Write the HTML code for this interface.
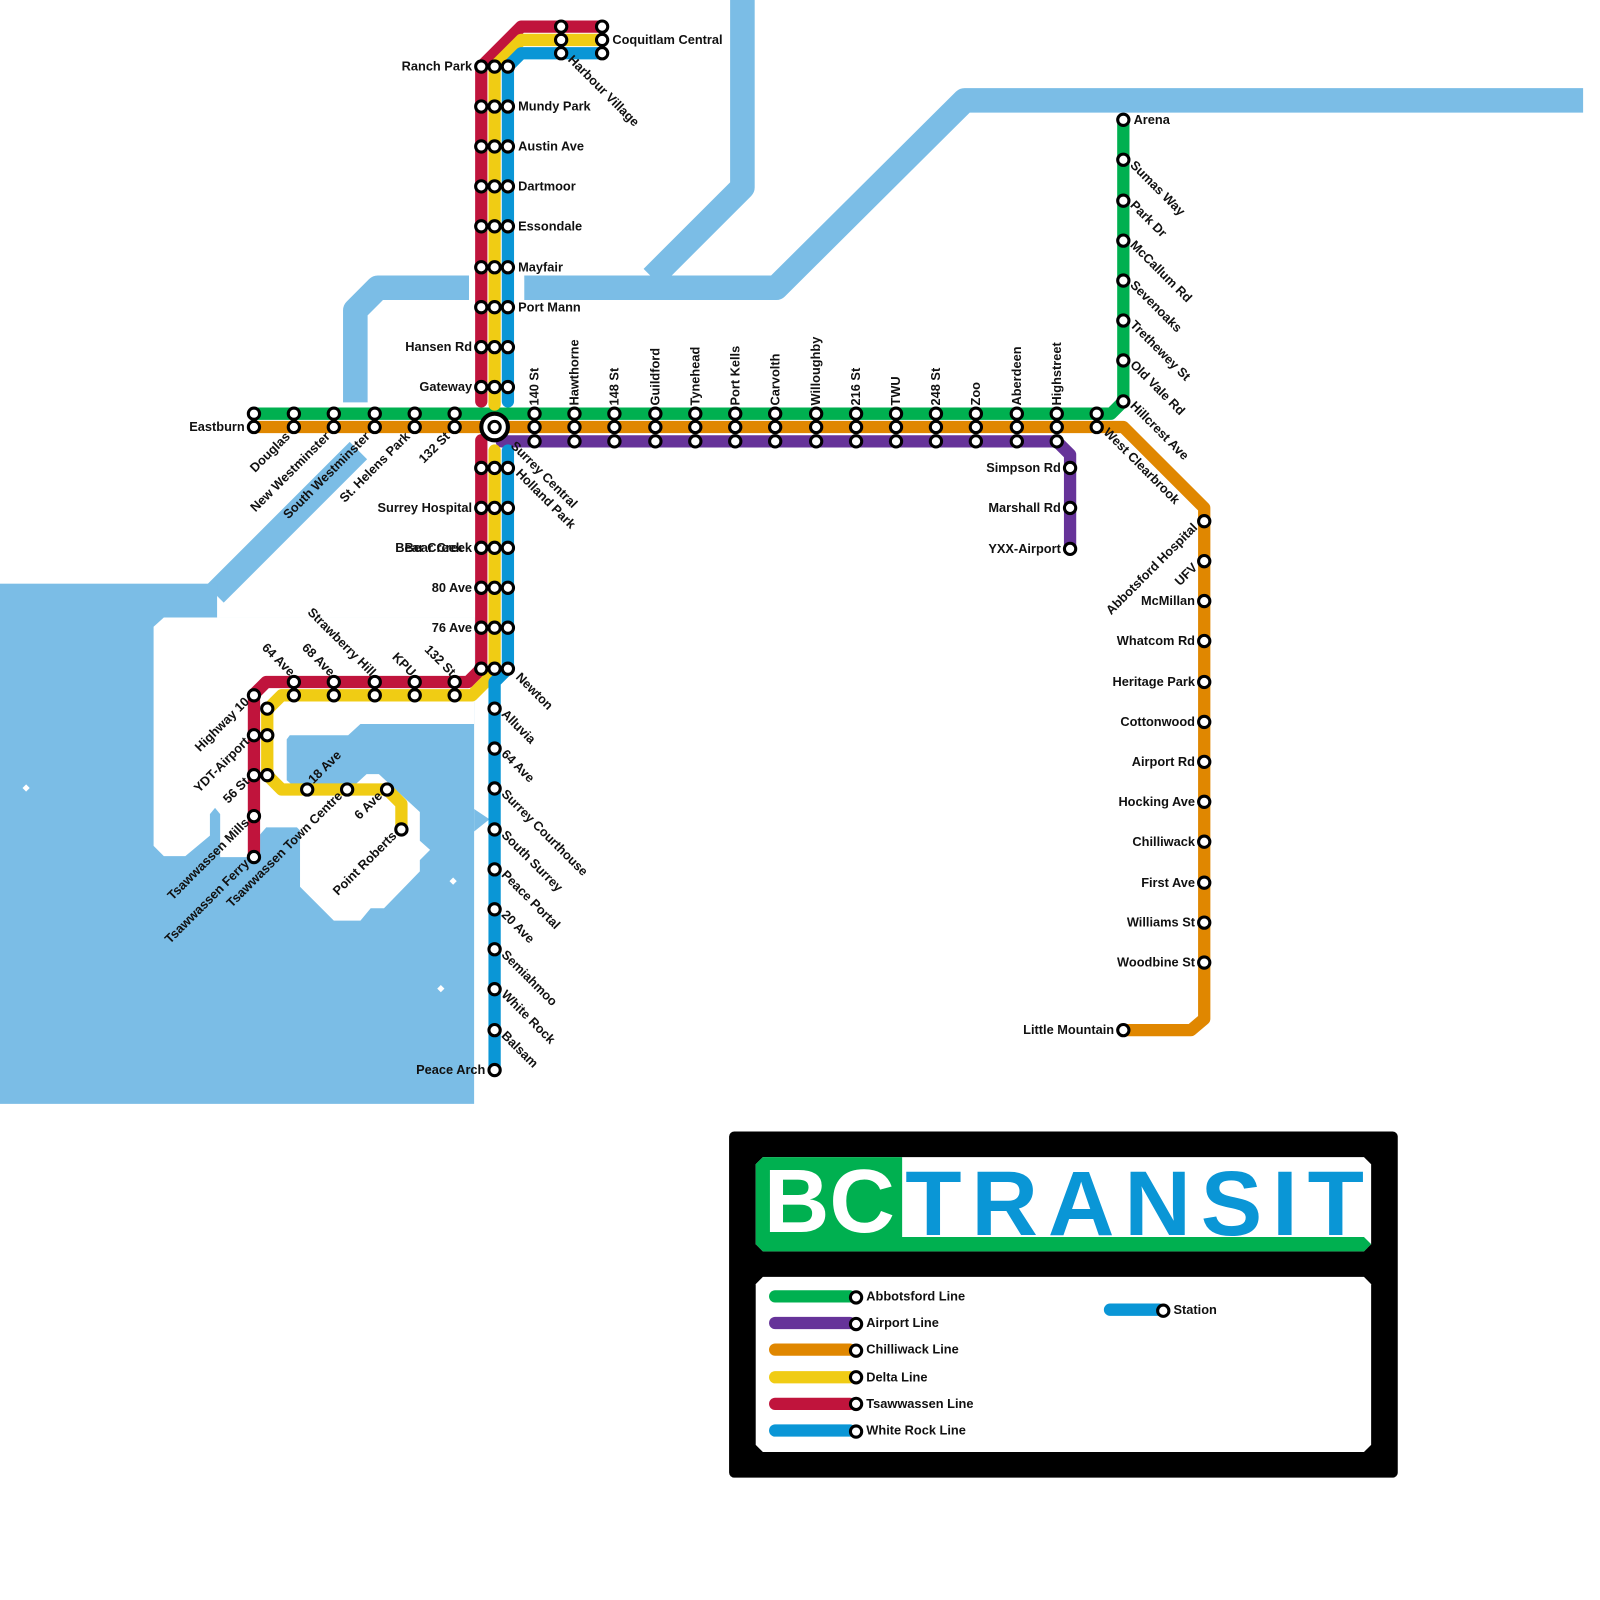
<!DOCTYPE html>
<html><head><meta charset="utf-8"><style>
html,body{margin:0;padding:0;background:#fff;}
svg{display:block}
text{font-family:"Liberation Sans",sans-serif;font-weight:bold;font-size:12.5px;fill:#111}
.s{fill:#fff;stroke:#000;stroke-width:3}
.l{fill:none;stroke-width:12;stroke-linejoin:round;stroke-linecap:round}
</style></head><body>
<svg width="1600" height="1600" viewBox="0 0 1562.5 1562.5" xmlns="http://www.w3.org/2000/svg">
<!-- water -->
<g fill="#7bbde6" stroke="#7bbde6" stroke-linejoin="round">
<path d="M725,0 V183 L637,271" fill="none" stroke-width="24"/>
<path d="M512,281 H758 L942,98 H1546" fill="none" stroke-width="24"/>
<path d="M458,281 H369 L347,303 V393" fill="none" stroke-width="24"/>
<path d="M350,440 L210,580" fill="none" stroke-width="24"/>
<rect x="0" y="570" width="212" height="40" stroke-width="0"/>
<rect x="0" y="603" width="463" height="475" stroke-width="0"/>
</g>
<!-- land cut -->
<path fill="#fff" d="M160,603 H463 V707 H352 L340,718 H283 L280,722 V762 L287,768 H345 L358,756 H370 L397,781 L410,793 V821 L420,830 L410,840 V851 L375,887 H362 L352,899 H326 L293,866 V811 L290,808 H260 L254,815 V837 H215 V795 L210,789 L205,795 V816 L181,836 H160 L150,826 V612 Z"/>
<path fill="#7bbde6" d="M463,790 L478,800 L463,812 Z"/>
<g fill="#fff"><rect x="23" y="767" width="5" height="5" transform="rotate(45 25.5 769.5)"/><rect x="440" y="858" width="5" height="5" transform="rotate(45 442.5 860.5)"/><rect x="428" y="963" width="5" height="5" transform="rotate(45 430.5 965.5)"/></g>

<!-- lines -->
<path class="l" stroke="#663399" d="M490,431 H1032 L1045,444 V536"/>
<path class="l" stroke="#e08700" d="M248,417 H1097 L1176,496 V995 L1163,1006 H1097"/>
<path class="l" stroke="#00b050" d="M248,404 H1085 L1097,392 V117"/>
<path class="l" stroke="#c0143c" d="M470,392 V65 L509,26 H588 M470,430 V653 L457,666 H260 L248,678 V837"/>
<path class="l" stroke="#f0cc14" d="M483,395 V65 L509,39 H588 M483,440 V657 L461,679 H275 L261,693 V757 L275,771 H378 L392,785 V810"/>
<path class="l" stroke="#0a96d6" d="M496,392 V65 L509,52 H588 M496,440 V653 L483,666 V1045"/>

<!-- stations -->
<g class="s">
<circle cx="248" cy="404" r="5.5"/><circle cx="248" cy="417" r="5.5"/>
<circle cx="287" cy="404" r="5.5"/><circle cx="287" cy="417" r="5.5"/>
<circle cx="326" cy="404" r="5.5"/><circle cx="326" cy="417" r="5.5"/>
<circle cx="366" cy="404" r="5.5"/><circle cx="366" cy="417" r="5.5"/>
<circle cx="405" cy="404" r="5.5"/><circle cx="405" cy="417" r="5.5"/>
<circle cx="444" cy="404" r="5.5"/><circle cx="444" cy="417" r="5.5"/>
<circle cx="522" cy="404" r="5.5"/><circle cx="522" cy="417" r="5.5"/><circle cx="522" cy="431" r="5.5"/>
<circle cx="561" cy="404" r="5.5"/><circle cx="561" cy="417" r="5.5"/><circle cx="561" cy="431" r="5.5"/>
<circle cx="600" cy="404" r="5.5"/><circle cx="600" cy="417" r="5.5"/><circle cx="600" cy="431" r="5.5"/>
<circle cx="640" cy="404" r="5.5"/><circle cx="640" cy="417" r="5.5"/><circle cx="640" cy="431" r="5.5"/>
<circle cx="679" cy="404" r="5.5"/><circle cx="679" cy="417" r="5.5"/><circle cx="679" cy="431" r="5.5"/>
<circle cx="718" cy="404" r="5.5"/><circle cx="718" cy="417" r="5.5"/><circle cx="718" cy="431" r="5.5"/>
<circle cx="757" cy="404" r="5.5"/><circle cx="757" cy="417" r="5.5"/><circle cx="757" cy="431" r="5.5"/>
<circle cx="797" cy="404" r="5.5"/><circle cx="797" cy="417" r="5.5"/><circle cx="797" cy="431" r="5.5"/>
<circle cx="836" cy="404" r="5.5"/><circle cx="836" cy="417" r="5.5"/><circle cx="836" cy="431" r="5.5"/>
<circle cx="875" cy="404" r="5.5"/><circle cx="875" cy="417" r="5.5"/><circle cx="875" cy="431" r="5.5"/>
<circle cx="914" cy="404" r="5.5"/><circle cx="914" cy="417" r="5.5"/><circle cx="914" cy="431" r="5.5"/>
<circle cx="953" cy="404" r="5.5"/><circle cx="953" cy="417" r="5.5"/><circle cx="953" cy="431" r="5.5"/>
<circle cx="993" cy="404" r="5.5"/><circle cx="993" cy="417" r="5.5"/><circle cx="993" cy="431" r="5.5"/>
<circle cx="1032" cy="404" r="5.5"/><circle cx="1032" cy="417" r="5.5"/><circle cx="1032" cy="431" r="5.5"/>
<circle cx="1071" cy="404" r="5.5"/><circle cx="1071" cy="417" r="5.5"/>
<circle cx="1045" cy="457" r="5.5"/><circle cx="1045" cy="496" r="5.5"/><circle cx="1045" cy="536" r="5.5"/>
<circle cx="470" cy="65" r="5.5"/><circle cx="483" cy="65" r="5.5"/><circle cx="496" cy="65" r="5.5"/>
<circle cx="470" cy="104" r="5.5"/><circle cx="483" cy="104" r="5.5"/><circle cx="496" cy="104" r="5.5"/>
<circle cx="470" cy="143" r="5.5"/><circle cx="483" cy="143" r="5.5"/><circle cx="496" cy="143" r="5.5"/>
<circle cx="470" cy="182" r="5.5"/><circle cx="483" cy="182" r="5.5"/><circle cx="496" cy="182" r="5.5"/>
<circle cx="470" cy="221" r="5.5"/><circle cx="483" cy="221" r="5.5"/><circle cx="496" cy="221" r="5.5"/>
<circle cx="470" cy="261" r="5.5"/><circle cx="483" cy="261" r="5.5"/><circle cx="496" cy="261" r="5.5"/>
<circle cx="470" cy="300" r="5.5"/><circle cx="483" cy="300" r="5.5"/><circle cx="496" cy="300" r="5.5"/>
<circle cx="470" cy="339" r="5.5"/><circle cx="483" cy="339" r="5.5"/><circle cx="496" cy="339" r="5.5"/>
<circle cx="470" cy="378" r="5.5"/><circle cx="483" cy="378" r="5.5"/><circle cx="496" cy="378" r="5.5"/>
<circle cx="548" cy="26" r="5.5"/><circle cx="548" cy="39" r="5.5"/><circle cx="548" cy="52" r="5.5"/>
<circle cx="588" cy="26" r="5.5"/><circle cx="588" cy="39" r="5.5"/><circle cx="588" cy="52" r="5.5"/>
<circle cx="470" cy="457" r="5.5"/><circle cx="483" cy="457" r="5.5"/><circle cx="496" cy="457" r="5.5"/>
<circle cx="470" cy="496" r="5.5"/><circle cx="483" cy="496" r="5.5"/><circle cx="496" cy="496" r="5.5"/>
<circle cx="470" cy="535" r="5.5"/><circle cx="483" cy="535" r="5.5"/><circle cx="496" cy="535" r="5.5"/>
<circle cx="470" cy="574" r="5.5"/><circle cx="483" cy="574" r="5.5"/><circle cx="496" cy="574" r="5.5"/>
<circle cx="470" cy="613" r="5.5"/><circle cx="483" cy="613" r="5.5"/><circle cx="496" cy="613" r="5.5"/>
<circle cx="470" cy="653" r="5.5"/><circle cx="483" cy="653" r="5.5"/><circle cx="496" cy="653" r="5.5"/>
<circle cx="483" cy="692" r="5.5"/><circle cx="483" cy="731" r="5.5"/><circle cx="483" cy="770" r="5.5"/>
<circle cx="483" cy="810" r="5.5"/><circle cx="483" cy="849" r="5.5"/><circle cx="483" cy="888" r="5.5"/>
<circle cx="483" cy="927" r="5.5"/><circle cx="483" cy="966" r="5.5"/><circle cx="483" cy="1006" r="5.5"/>
<circle cx="483" cy="1045" r="5.5"/>
<circle cx="287" cy="666" r="5.5"/><circle cx="287" cy="679" r="5.5"/>
<circle cx="326" cy="666" r="5.5"/><circle cx="326" cy="679" r="5.5"/>
<circle cx="366" cy="666" r="5.5"/><circle cx="366" cy="679" r="5.5"/>
<circle cx="405" cy="666" r="5.5"/><circle cx="405" cy="679" r="5.5"/>
<circle cx="444" cy="666" r="5.5"/><circle cx="444" cy="679" r="5.5"/>
<circle cx="248" cy="679" r="5.5"/><circle cx="248" cy="718" r="5.5"/><circle cx="248" cy="757" r="5.5"/>
<circle cx="248" cy="797" r="5.5"/><circle cx="248" cy="837" r="5.5"/>
<circle cx="261" cy="692" r="5.5"/><circle cx="261" cy="718" r="5.5"/><circle cx="261" cy="757" r="5.5"/>
<circle cx="300" cy="771" r="5.5"/><circle cx="339" cy="771" r="5.5"/><circle cx="378" cy="771" r="5.5"/>
<circle cx="392" cy="810" r="5.5"/>
<circle cx="1097" cy="117" r="5.5"/><circle cx="1097" cy="156" r="5.5"/><circle cx="1097" cy="196" r="5.5"/>
<circle cx="1097" cy="235" r="5.5"/><circle cx="1097" cy="274" r="5.5"/><circle cx="1097" cy="313" r="5.5"/>
<circle cx="1097" cy="352" r="5.5"/><circle cx="1097" cy="392" r="5.5"/>
<circle cx="1176" cy="509" r="5.5"/><circle cx="1176" cy="548" r="5.5"/><circle cx="1176" cy="587" r="5.5"/>
<circle cx="1176" cy="626" r="5.5"/><circle cx="1176" cy="666" r="5.5"/><circle cx="1176" cy="705" r="5.5"/>
<circle cx="1176" cy="744" r="5.5"/><circle cx="1176" cy="783" r="5.5"/><circle cx="1176" cy="822" r="5.5"/>
<circle cx="1176" cy="862" r="5.5"/><circle cx="1176" cy="901" r="5.5"/><circle cx="1176" cy="940" r="5.5"/>
<circle cx="1097" cy="1006" r="5.5"/>
</g>
<circle cx="483" cy="417" r="13" fill="#fff" stroke="#000" stroke-width="4"/>
<circle cx="483" cy="417" r="5.5" fill="#fff" stroke="#000" stroke-width="3"/>

<g text-anchor="end">
<text x="239" y="421">Eastburn</text>
<text x="461" y="69">Ranch Park</text>
<text x="461" y="343">Hansen Rd</text>
<text x="461" y="382">Gateway</text>
<text x="461" y="500">Surrey Hospital</text>
<text x="461" y="539">Bear Creek</text>
<text x="452" y="539">Bear Creek</text>
<text x="461" y="578">80 Ave</text>
<text x="461" y="617">76 Ave</text>
<text x="1036" y="461">Simpson Rd</text>
<text x="1036" y="500">Marshall Rd</text>
<text x="1036" y="540">YXX-Airport</text>
<text x="1167" y="591">McMillan</text>
<text x="1167" y="630">Whatcom Rd</text>
<text x="1167" y="670">Heritage Park</text>
<text x="1167" y="709">Cottonwood</text>
<text x="1167" y="748">Airport Rd</text>
<text x="1167" y="787">Hocking Ave</text>
<text x="1167" y="826">Chilliwack</text>
<text x="1167" y="866">First Ave</text>
<text x="1167" y="905">Williams St</text>
<text x="1167" y="944">Woodbine St</text>
<text x="1088" y="1010">Little Mountain</text>
<text x="474" y="1049">Peace Arch</text>
</g>
<g>
<text x="506" y="108">Mundy Park</text>
<text x="506" y="147">Austin Ave</text>
<text x="506" y="186">Dartmoor</text>
<text x="506" y="225">Essondale</text>
<text x="506" y="265">Mayfair</text>
<text x="506" y="304">Port Mann</text>
<text x="598" y="43">Coquitlam Central</text>
<text x="1107" y="121">Arena</text>
</g>
<g>
<text transform="translate(526,396) rotate(-90)">140 St</text>
<text transform="translate(565,396) rotate(-90)">Hawthorne</text>
<text transform="translate(604,396) rotate(-90)">148 St</text>
<text transform="translate(644,396) rotate(-90)">Guildford</text>
<text transform="translate(683,396) rotate(-90)">Tynehead</text>
<text transform="translate(722,396) rotate(-90)">Port Kells</text>
<text transform="translate(761,396) rotate(-90)">Carvolth</text>
<text transform="translate(801,396) rotate(-90)">Willoughby</text>
<text transform="translate(840,396) rotate(-90)">216 St</text>
<text transform="translate(879,396) rotate(-90)">TWU</text>
<text transform="translate(918,396) rotate(-90)">248 St</text>
<text transform="translate(957,396) rotate(-90)">Zoo</text>
<text transform="translate(997,396) rotate(-90)">Aberdeen</text>
<text transform="translate(1036,396) rotate(-90)">Highstreet</text>
</g>
<g text-anchor="end">
<text transform="translate(284,427) rotate(-45)">Douglas</text>
<text transform="translate(323,427) rotate(-45)">New Westminster</text>
<text transform="translate(362,427) rotate(-45)">South Westminster</text>
<text transform="translate(401,427) rotate(-45)">St. Helens Park</text>
<text transform="translate(440,427) rotate(-45)">132 St</text>
<text transform="translate(1170,516) rotate(-45)">Abbotsford Hospital</text>
<text transform="translate(1170,555) rotate(-45)">UFV</text>
<text transform="translate(244,686) rotate(-45)">Highway 10</text>
<text transform="translate(244,725) rotate(-45)">YDT-Airport</text>
<text transform="translate(244,764) rotate(-45)">56 St</text>
<text transform="translate(244,804) rotate(-45)">Tsawwassen Mills</text>
<text transform="translate(244,844) rotate(-45)">Tsawwassen Ferry</text>
<text transform="translate(335,778) rotate(-45)">Tsawwassen Town Centre</text>
<text transform="translate(374,778) rotate(-45)">6 Ave</text>
<text transform="translate(388,817) rotate(-45)">Point Roberts</text>
</g>
<text transform="translate(306,766) rotate(-45)">18 Ave</text>
<g text-anchor="end">
<text transform="translate(283,661) rotate(45)">64 Ave</text>
<text transform="translate(322,661) rotate(45)">68 Ave</text>
<text transform="translate(362,661) rotate(45)">Strawberry Hill</text>
<text transform="translate(401,661) rotate(45)">KPU</text>
<text transform="translate(440,661) rotate(45)">132 St</text>
</g>
<g>
<text transform="translate(554,59) rotate(45)">Harbour Village</text>
<text transform="translate(498,436) rotate(45)">Surrey Central</text>
<text transform="translate(503,463) rotate(45)">Holland Park</text>
<text transform="translate(503,662) rotate(45)">Newton</text>
<text transform="translate(489,698) rotate(45)">Alluvia</text>
<text transform="translate(489,737) rotate(45)">64 Ave</text>
<text transform="translate(489,776) rotate(45)">Surrey Courthouse</text>
<text transform="translate(489,816) rotate(45)">South Surrey</text>
<text transform="translate(489,855) rotate(45)">Peace Portal</text>
<text transform="translate(489,894) rotate(45)">20 Ave</text>
<text transform="translate(489,933) rotate(45)">Semiahmoo</text>
<text transform="translate(489,972) rotate(45)">White Rock</text>
<text transform="translate(489,1012) rotate(45)">Balsam</text>
<text transform="translate(1103,162) rotate(45)">Sumas Way</text>
<text transform="translate(1103,201) rotate(45)">Park Dr</text>
<text transform="translate(1103,240) rotate(45)">McCallum Rd</text>
<text transform="translate(1103,279) rotate(45)">Sevenoaks</text>
<text transform="translate(1103,318) rotate(45)">Trethewey St</text>
<text transform="translate(1103,357) rotate(45)">Old Vale Rd</text>
<text transform="translate(1103,397) rotate(45)">Hillcrest Ave</text>
<text transform="translate(1077,423) rotate(45)">West Clearbrook</text>
</g>

<rect x="712" y="1105" width="653" height="338" rx="5" fill="#000"/>
<path d="M745,1130 H1332 L1339,1137 V1215 L1332,1222 H745 L738,1215 V1137 Z" fill="#fff"/>
<path d="M745,1130 H881 V1208 H1332 L1339,1215 L1332,1222 H745 L738,1215 V1137 Z" fill="#00b050"/>
<text x="746" y="1203" style="font-size:88px;fill:#fff;font-weight:bold" textLength="128" lengthAdjust="spacingAndGlyphs">BC</text>
<text x="884" y="1206" style="font-size:90px;fill:#0a96d6;font-weight:bold" textLength="448" lengthAdjust="spacing">TRANSIT</text>
<path d="M745,1247 H1332 L1339,1254 V1411 L1332,1418 H745 L738,1411 V1254 Z" fill="#fff"/>
<g class="l" style="stroke-width:12">
<path stroke="#00b050" d="M757,1266 H830"/>
<path stroke="#663399" d="M757,1292 H830"/>
<path stroke="#e08700" d="M757,1318 H830"/>
<path stroke="#f0cc14" d="M757,1345 H830"/>
<path stroke="#c0143c" d="M757,1371 H830"/>
<path stroke="#0a96d6" d="M757,1397 H830"/>
<path stroke="#0a96d6" d="M1084,1279 H1132"/>
</g>
<g class="s">
<circle cx="836" cy="1267" r="5.5"/><circle cx="836" cy="1293" r="5.5"/><circle cx="836" cy="1319" r="5.5"/>
<circle cx="836" cy="1345" r="5.5"/><circle cx="836" cy="1371" r="5.5"/><circle cx="836" cy="1398" r="5.5"/>
<circle cx="1136" cy="1280" r="5.5"/>
</g>
<text x="846" y="1270">Abbotsford Line</text>
<text x="846" y="1296">Airport Line</text>
<text x="846" y="1322">Chilliwack Line</text>
<text x="846" y="1349">Delta Line</text>
<text x="846" y="1375">Tsawwassen Line</text>
<text x="846" y="1401">White Rock Line</text>
<text x="1146" y="1283">Station</text>
</svg>
</body></html>
